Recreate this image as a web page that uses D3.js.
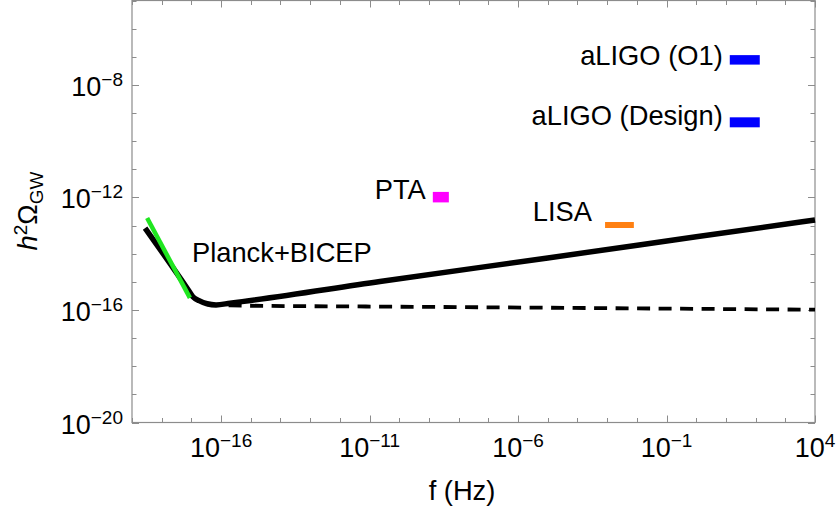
<!DOCTYPE html>
<html>
<head>
<meta charset="utf-8">
<script src="https://cdn.jsdelivr.net/npm/d3@7"></script>
<style>
  body { margin: 0; background: #fff; }
  svg { display: block; }
  text { font-family: "Liberation Sans", Arial, Helvetica, sans-serif; fill: #000; }
</style>
</head>
<body>
<svg id="chart" width="838" height="514"></svg>
<script>
// ---- Data (all values are log10 of the quantity) ----
// Spectrum with running tensor tilt (solid)
const solidLogF     = [-18.56, -17.11, -16.95, -16.74, -16.47, -16.17, -15.70, -10.65, -5.00, 0.00, 4.00];
const solidLogOmega = [-13.09, -15.28, -15.53, -15.67, -15.78, -15.82, -15.76, -14.99, -14.15, -13.40, -12.80];
// Nearly scale-invariant spectrum (dashed)
const dashedLogF     = [-16.47, -15.70, -10.65, -5.00, 0.00, 4.00];
const dashedLogOmega = [-15.80, -15.84, -15.88, -15.92, -15.96, -15.99];
// CMB bound segment (Planck+BICEP)
const cmbLogF     = [-18.49, -17.05];
const cmbLogOmega = [-12.73, -15.57];
// Detector sensitivities: frequency band and energy density
const detectorNames    = ["aLIGO (O1)", "aLIGO (Design)", "PTA", "LISA"];
const detectorLogFMin  = [1.13, 1.13, -8.87, -3.07];
const detectorLogFMax  = [2.14, 2.14, -8.33, -2.10];
const detectorLogOmega = [-7.11, -9.33, -11.99, -12.98];
// CMB label anchor
const cmbLabel = { text: "Planck+BICEP", logF: -16.98, logOmega: -14.29 };
// Axes
const xDomainExp = [-19, 4];
const yDomainExp = [-20, -5];
const xLabelExps = [-16, -11, -6, -1, 4];
const yLabelExps = [-20, -16, -12, -8];

// ---- Layout ----
const W = 838, H = 514;
const plotLeft = 132, plotRight = 815, plotTop = 0.5, plotBottom = 422.5;
const labelSize = 27.3, tickSize = 27, supSize = 19;

const svg = d3.select("#chart");
const pow = e => Math.pow(10, e);

const x = d3.scaleLog().domain(xDomainExp.map(pow)).range([plotLeft, plotRight]);
const y = d3.scaleLog().domain(yDomainExp.map(pow)).range([plotBottom, plotTop]);

const frameColor = "#8c8c8c";

// ---- Ticks: one per decade, longer at labelled decades ----
const xDecades = d3.range(xDomainExp[0], xDomainExp[1] + 1);
const yDecades = d3.range(yDomainExp[0], yDomainExp[1] + 1);
const ticks = svg.append("g").attr("stroke", frameColor).attr("stroke-width", 1);
xDecades.forEach(e => {
  const px = Math.round(x(pow(e))) + 0.5;
  const len = xLabelExps.includes(e) ? 7 : 4.5;
  ticks.append("line").attr("x1", px).attr("x2", px).attr("y1", plotBottom).attr("y2", plotBottom - len);
  ticks.append("line").attr("x1", px).attr("x2", px).attr("y1", plotTop).attr("y2", plotTop + len);
});
yDecades.forEach(e => {
  const py = Math.round(y(pow(e))) + 0.5;
  const len = yLabelExps.includes(e) ? 7 : 4.5;
  ticks.append("line").attr("x1", plotLeft).attr("x2", plotLeft + len).attr("y1", py).attr("y2", py);
  ticks.append("line").attr("x1", plotRight).attr("x2", plotRight - len).attr("y1", py).attr("y2", py);
});

// Frame
svg.append("rect")
  .attr("x", plotLeft).attr("y", plotTop)
  .attr("width", plotRight - plotLeft).attr("height", plotBottom - plotTop)
  .attr("fill", "none").attr("stroke", frameColor).attr("stroke-width", 1.2);

// ---- Tick labels as 10^n ----
function powerLabel(sel, exp) {
  sel.append("tspan").text("10");
  sel.append("tspan").attr("dy", -10).attr("font-size", supSize)
    .text(exp < 0 ? "\u2212" + Math.abs(exp) : String(exp));
}
xLabelExps.forEach(e => {
  const t = svg.append("text")
    .attr("x", x(pow(e))).attr("y", plotBottom + 34.5)
    .attr("text-anchor", "middle").attr("font-size", tickSize);
  powerLabel(t, e);
});
yLabelExps.forEach(e => {
  const t = svg.append("text")
    .attr("x", plotLeft - 9).attr("y", y(pow(e)) + 11)
    .attr("text-anchor", "end").attr("font-size", tickSize);
  powerLabel(t, e);
});

// Axis titles
svg.append("text")
  .attr("x", 462).attr("y", 500)
  .attr("text-anchor", "middle").attr("font-size", labelSize)
  .text("f (Hz)");

const yTitle = svg.append("text")
  .attr("transform", "translate(37,211) rotate(-90)")
  .attr("text-anchor", "middle").attr("font-size", labelSize);
yTitle.append("tspan").attr("font-style", "italic").text("h");
yTitle.append("tspan").attr("dy", -10).attr("font-size", supSize).text("2");
yTitle.append("tspan").attr("dy", 10).text("\u03A9");
yTitle.append("tspan").attr("dy", 6).attr("font-size", supSize).text("GW");

// ---- Curves ----
const line = d3.line().x(d => x(pow(d[0]))).y(d => y(pow(d[1]))).curve(d3.curveMonotoneX);

svg.append("path")
  .datum(d3.zip(dashedLogF, dashedLogOmega))
  .attr("d", line)
  .attr("fill", "none").attr("stroke", "#000")
  .attr("stroke-width", 3.8).attr("stroke-dasharray", "13,8.5");

svg.append("path")
  .datum(d3.zip(solidLogF, solidLogOmega))
  .attr("d", line)
  .attr("fill", "none").attr("stroke", "#000")
  .attr("stroke-width", 5.5).attr("stroke-linejoin", "round");

svg.append("path")
  .datum(d3.zip(cmbLogF, cmbLogOmega))
  .attr("d", d3.line().x(d => x(pow(d[0]))).y(d => y(pow(d[1]))))
  .attr("fill", "none").attr("stroke", "#1fe61f")
  .attr("stroke-width", 4.5);

svg.append("text")
  .attr("x", x(pow(cmbLabel.logF))).attr("y", y(pow(cmbLabel.logOmega)))
  .attr("font-size", labelSize)
  .text(cmbLabel.text);

// ---- Detector sensitivity marks ----
const detectorStyle = {
  "aLIGO (O1)":     { color: "#0000ff", thick: 9.5, dx: -7,  dy: 5.5 },
  "aLIGO (Design)": { color: "#0000ff", thick: 10,  dx: -7,  dy: 3 },
  "PTA":            { color: "#ff00ff", thick: 10.5, dx: -7, dy: 1.5 },
  "LISA":           { color: "#ff8012", thick: 6,   dx: -13, dy: -4.3 }
};
detectorNames.forEach((name, i) => {
  const s = detectorStyle[name];
  const x0 = x(pow(detectorLogFMin[i])), x1 = x(pow(detectorLogFMax[i]));
  const yc = y(pow(detectorLogOmega[i]));
  svg.append("line")
    .attr("x1", x0).attr("x2", x1).attr("y1", yc).attr("y2", yc)
    .attr("stroke", s.color).attr("stroke-width", s.thick);
  svg.append("text")
    .attr("x", x0 + s.dx).attr("y", yc + s.dy)
    .attr("text-anchor", "end").attr("font-size", labelSize)
    .text(name);
});
</script>
</body>
</html>
